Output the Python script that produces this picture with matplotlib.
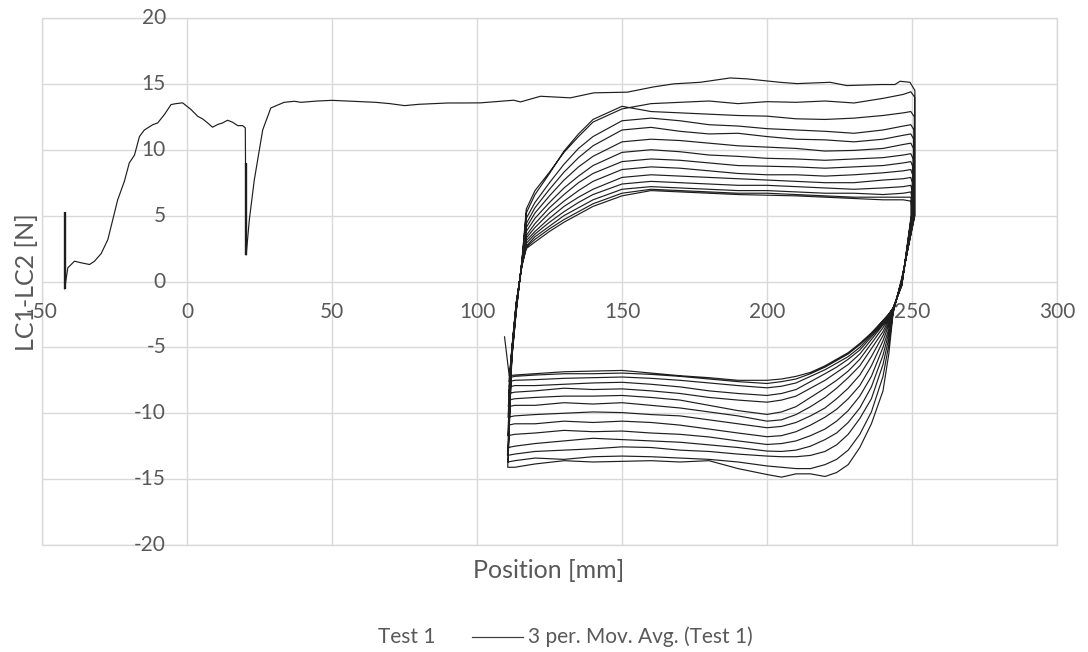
import matplotlib
matplotlib.use("Agg")
import matplotlib.pyplot as plt
from matplotlib.lines import Line2D
from matplotlib.patches import Rectangle

# ---------------------------------------------------------------------------
# Data
# ---------------------------------------------------------------------------
# Initial approach (pre-load, slip and first stroke to the right end stop)
approach_x = [-42.2, -41.1, -38.8, -36.5, -33.6, -31.9, -29.6, -27.3, -25.6, -23.9,
              -21.6, -19.9, -18.1, -16.4, -14.7, -11.8, -10.1, -7.8, -5.5, -3.8,
              -1.5, 1.4, 3.7, 5.4, 7.1, 8.8, 10.6, 12.3, 14.0, 15.7,
              17.5, 19.2, 20.1, 20.4, 21.5, 23.2, 26.1, 28.9, 33.5, 37.0,
              39.3, 45, 50, 55, 60, 65, 70, 75, 80, 85,
              90, 95, 101.2, 112.7, 115.0, 121.9, 132.2, 140.3, 151.8, 160.9,
              167.8, 177.0, 187.3, 193.1, 204.5, 210.3, 221.8, 227.5, 239.0, 244.1,
              245.9, 249.3, 251.0]
approach_y = [-0.56, 1.04, 1.54, 1.42, 1.29, 1.54, 2.12, 3.18, 4.69, 6.2,
              7.6, 9.0, 9.6, 11.0, 11.5, 11.9, 12.04, 12.67, 13.43, 13.5,
              13.56, 13.05, 12.54, 12.34, 12.04, 11.71, 11.92, 12.04, 12.24, 12.09,
              11.83, 11.83, 11.66, 2.0, 4.7, 7.7, 11.5, 13.17, 13.6, 13.68,
              13.6, 13.7, 13.75, 13.7, 13.65, 13.6, 13.5, 13.35, 13.45, 13.5,
              13.55, 13.55, 13.56, 13.76, 13.63, 14.06, 13.94, 14.32, 14.37, 14.77,
              15.0, 15.12, 15.45, 15.38, 15.12, 15.02, 15.12, 14.87, 14.95, 14.95,
              15.2, 15.12, 14.5]

# Short vertical jumps in the raw record
jump_x = [-42.2, 20.2]
jump_low = [-0.6, 2.0]
jump_high = [5.3, 9.0]

# Cyclic part: positive-force strokes (left -> right), shared positions
top_x = [112, 113.5, 115.5, 117, 120, 125, 130, 135, 140, 150, 160,
         170, 180, 190, 200, 210, 220, 230, 240, 247, 249.6]
top_y = [
    [-5.9, -2.4, 1.6, 5.5, 6.9, 8.3, 9.8, 11.0, 12.1, 13.1, 13.5, 13.6, 13.7, 13.5, 13.65, 13.6, 13.7, 13.55, 13.9, 14.2, 14.4],
    [-5.8, -2.3, 1.6, 5.2, 6.6, 8.2, 9.9, 11.2, 12.3, 13.3, 12.9, 12.8, 12.7, 12.6, 12.55, 12.35, 12.3, 12.4, 12.6, 12.8, 12.9],
    [-5.7, -2.2, 1.5, 4.8, 6.0, 7.5, 8.9, 10.1, 11.0, 12.2, 12.4, 12.2, 11.9, 11.8, 11.6, 11.5, 11.4, 11.25, 11.5, 11.8, 11.9],
    [-5.6, -2.1, 1.5, 4.4, 5.6, 7.0, 8.3, 9.4, 10.3, 11.5, 11.7, 11.4, 11.2, 11.25, 11.0, 10.8, 10.75, 10.6, 10.8, 11.1, 11.2],
    [-5.5, -2.0, 1.5, 4.1, 5.2, 6.5, 7.7, 8.7, 9.5, 10.6, 10.8, 10.7, 10.5, 10.3, 10.2, 10.1, 9.9, 9.95, 10.1, 10.4, 10.5],
    [-5.5, -2.0, 1.4, 3.8, 4.8, 6.0, 7.1, 8.0, 8.8, 9.8, 10.0, 9.85, 9.6, 9.5, 9.35, 9.3, 9.2, 9.3, 9.4, 9.6, 9.7],
    [-5.4, -1.9, 1.4, 3.5, 4.4, 5.6, 6.6, 7.5, 8.2, 9.1, 9.3, 9.2, 9.0, 8.8, 8.75, 8.7, 8.6, 8.7, 8.8, 9.0, 9.1],
    [-5.4, -1.9, 1.4, 3.3, 4.1, 5.2, 6.1, 6.9, 7.6, 8.5, 8.7, 8.6, 8.4, 8.2, 8.1, 8.1, 8.0, 8.1, 8.25, 8.4, 8.5],
    [-5.3, -1.8, 1.3, 3.1, 3.8, 4.8, 5.7, 6.4, 7.0, 7.9, 8.1, 8.0, 7.9, 7.8, 7.7, 7.6, 7.5, 7.5, 7.7, 7.8, 7.9],
    [-5.3, -1.8, 1.3, 2.9, 3.6, 4.5, 5.3, 6.0, 6.6, 7.4, 7.6, 7.5, 7.4, 7.3, 7.3, 7.2, 7.1, 7.0, 7.1, 7.2, 7.3],
    [-5.2, -1.7, 1.3, 2.7, 3.4, 4.2, 5.0, 5.6, 6.2, 7.0, 7.2, 7.1, 7.0, 6.9, 6.9, 6.8, 6.7, 6.7, 6.6, 6.7, 6.8],
    [-5.2, -1.7, 1.2, 2.6, 3.2, 4.0, 4.7, 5.3, 5.9, 6.7, 7.0, 6.9, 6.8, 6.7, 6.7, 6.6, 6.5, 6.4, 6.4, 6.4, 6.4],
    [-5.1, -1.6, 1.2, 2.5, 3.0, 3.8, 4.5, 5.1, 5.7, 6.5, 6.9, 6.8, 6.7, 6.6, 6.55, 6.5, 6.4, 6.3, 6.2, 6.2, 6.1],
]

# Negative-force strokes (right -> left): end-stop x, two values at the end stop,
# values at the shared positions below, then the left turning point
bot_right_x = [251.0, 250.9, 250.8, 250.7, 250.6, 250.5, 250.4,
               250.3, 250.2, 250.1, 250.0, 249.9, 249.8, 249.7]
bot_left_x = [110.6, 110.7, 110.5, 110.8, 110.6, 110.9, 110.7,
              110.8, 111.0, 110.9, 111.1, 111.0, 111.2, 111.1]
bot_x = [246.5, 243.5, 242, 240, 236, 232, 228, 224, 220, 215, 210,
         205, 200, 190, 180, 170, 160, 150, 140, 130, 120, 113]
bot_y = [
    [13.8, 5.0, 0.3, -2.4, -5.5, -8.3, -10.8, -12.6, -13.9, -14.5, -14.8, -14.6, -14.6, -14.85, -14.65, -14.2, -13.6, -13.7, -13.6, -13.65, -13.7, -13.6, -13.85, -14.1, -14.1],
    [14.0, 5.0, 0.2, -2.3, -4.8, -7.2, -9.9, -11.6, -12.8, -13.5, -13.9, -14.2, -14.2, -14.1, -14.0, -13.7, -13.5, -13.4, -13.3, -13.25, -13.3, -13.5, -13.4, -13.6, -13.7],
    [12.5, 5.0, 0.1, -2.3, -4.3, -6.3, -8.9, -10.4, -11.6, -12.4, -12.9, -13.2, -13.3, -13.3, -13.25, -13.1, -12.9, -12.8, -12.6, -12.55, -12.7, -12.8, -12.9, -13.1, -13.2],
    [11.5, 5.0, 0.1, -2.2, -3.9, -5.6, -8.0, -9.6, -10.7, -11.5, -12.0, -12.5, -12.8, -12.9, -12.87, -12.6, -12.4, -12.2, -12.1, -12.0, -11.9, -12.1, -12.3, -12.5, -12.6],
    [10.8, 5.0, 0.0, -2.2, -3.6, -5.0, -7.2, -8.7, -9.8, -10.6, -11.2, -11.7, -12.1, -12.3, -12.37, -12.1, -11.8, -11.6, -11.5, -11.35, -11.4, -11.3, -11.5, -11.6, -11.7],
    [10.1, 5.0, 0.0, -2.2, -3.3, -4.5, -6.4, -7.9, -8.9, -9.7, -10.3, -10.9, -11.4, -11.7, -11.78, -11.5, -11.2, -10.9, -10.7, -10.6, -10.7, -10.6, -10.8, -10.8, -10.9],
    [9.3, 5.0, 0.0, -2.2, -3.1, -4.1, -5.7, -7.1, -8.1, -8.9, -9.6, -10.2, -10.7, -11.0, -11.1, -10.8, -10.5, -10.2, -10.1, -9.95, -9.9, -10.0, -10.1, -10.2, -10.3],
    [8.7, 5.0, -0.1, -2.1, -2.9, -3.8, -5.1, -6.4, -7.3, -8.1, -8.8, -9.5, -10.1, -10.5, -10.6, -10.2, -9.9, -9.6, -9.4, -9.2, -9.3, -9.2, -9.4, -9.4, -9.5],
    [8.1, 5.0, -0.1, -2.1, -2.8, -3.5, -4.7, -5.9, -6.8, -7.5, -8.1, -8.8, -9.5, -9.9, -10.09, -9.8, -9.4, -9.0, -8.8, -8.65, -8.7, -8.7, -8.8, -8.9, -9.0],
    [7.5, 5.0, -0.1, -2.1, -2.7, -3.3, -4.4, -5.5, -6.3, -6.9, -7.5, -8.1, -8.7, -9.0, -9.16, -9.0, -8.8, -8.5, -8.3, -8.15, -8.2, -8.1, -8.3, -8.4, -8.5],
    [6.9, 5.0, -0.2, -2.1, -2.6, -3.2, -4.2, -5.2, -5.9, -6.5, -7.0, -7.6, -8.2, -8.5, -8.65, -8.5, -8.3, -8.0, -7.8, -7.65, -7.7, -7.8, -7.9, -7.9, -8.0],
    [6.4, 5.0, -0.2, -2.0, -2.55, -3.1, -4.05, -5.0, -5.7, -6.2, -6.7, -7.2, -7.7, -7.95, -8.07, -7.9, -7.7, -7.5, -7.35, -7.25, -7.3, -7.35, -7.45, -7.5, -7.6],
    [6.0, 5.0, -0.3, -2.0, -2.5, -3.0, -3.95, -4.8, -5.5, -6.0, -6.5, -7.0, -7.4, -7.6, -7.74, -7.6, -7.4, -7.2, -7.05, -6.95, -7.0, -7.0, -7.1, -7.2, -7.3],
    [5.7, 5.0, -0.3, -2.0, -2.45, -2.95, -3.9, -4.7, -5.4, -5.9, -6.4, -6.9, -7.2, -7.4, -7.5, -7.5, -7.3, -7.15, -6.95, -6.75, -6.8, -6.85, -7.0, -7.1, -7.15],
]

# Last recorded point after the final return stroke
end_x = [109.5]
end_y = [-4.2]

x_ticks = [-50, 0, 50, 100, 150, 200, 250, 300]
y_ticks = [-20, -15, -10, -5, 0, 5, 10, 15, 20]
x_title = "Position [mm]"
y_title = "LC1-LC2 [N]"
legend_labels = ["Test 1", "3 per. Mov. Avg. (Test 1)"]

# ---------------------------------------------------------------------------
# Assemble the continuous moving-average trace
# ---------------------------------------------------------------------------
trace_x = list(approach_x)
trace_y = list(approach_y)
for k, row in enumerate(bot_y):
    trace_x += [bot_right_x[k], bot_right_x[k]] + bot_x + [bot_left_x[k]]
    trace_y += row
    if k < len(top_y):
        trace_x += top_x
        trace_y += top_y[k]
trace_x += end_x
trace_y += end_y

# ---------------------------------------------------------------------------
# Figure
# ---------------------------------------------------------------------------
FONT = "Lato"
TXT = "#595959"
GRID = "#D9D9D9"
LINE = "#1e1e1e"

W, H = 1088, 652
fig = plt.figure(figsize=(W / 100, H / 100), dpi=100)
fig.patch.set_facecolor("white")
left, right, top, bottom = 42, 1057, 18, 545
ax = fig.add_axes([left / W, 1 - bottom / H, (right - left) / W, (bottom - top) / H])
ax.set_xlim(x_ticks[0], x_ticks[-1])
ax.set_ylim(y_ticks[0], y_ticks[-1])
for s in ax.spines.values():
    s.set_visible(False)
ax.set_xticks(x_ticks)
ax.set_yticks(y_ticks)
ax.grid(True, color=GRID, lw=1.0, zorder=0)
ax.set_axisbelow(True)
ax.tick_params(length=0, labelbottom=False, labelleft=False)
ax.add_patch(Rectangle((0, 0), 1, 1, transform=ax.transAxes, fill=False,
                       ec=GRID, lw=1.0, clip_on=False, zorder=0))

# tick labels sit next to the axes crossing at the origin
for v in x_ticks:
    ax.annotate(str(v), xy=(v, 0), xytext=(0, -31), textcoords="offset pixels",
                ha="center", va="center", fontsize=15, color=TXT, family=FONT,
                annotation_clip=False, zorder=1)
for v in y_ticks:
    ax.annotate(str(v), xy=(0, v), xytext=(-21, 0), textcoords="offset pixels",
                ha="right", va="center", fontsize=15, color=TXT, family=FONT,
                annotation_clip=False, zorder=1)

ax.plot(trace_x, trace_y, color=LINE, lw=0.85, zorder=3, solid_joinstyle="round")
ax.vlines(jump_x, jump_low, jump_high, color=LINE, lw=1.7, zorder=3)

fig.text(549 / W, 1 - 571 / H, x_title, ha="center", va="center",
         fontsize=18, color=TXT, family=FONT)
fig.text(26 / W, 1 - 282 / H, y_title, ha="center", va="center", rotation=90,
         fontsize=18, color=TXT, family=FONT)

# legend row
ly = 1 - 637 / H
fig.text(378 / W, ly, legend_labels[0], ha="left", va="center",
         fontsize=15, color=TXT, family=FONT)
fig.add_artist(Line2D([472 / W, 523 / W], [ly, ly], color="#404040", lw=0.9))
fig.text(528 / W, ly, legend_labels[1], ha="left", va="center",
         fontsize=15, color=TXT, family=FONT)

fig.savefig("out.png", dpi=100, facecolor="white")
